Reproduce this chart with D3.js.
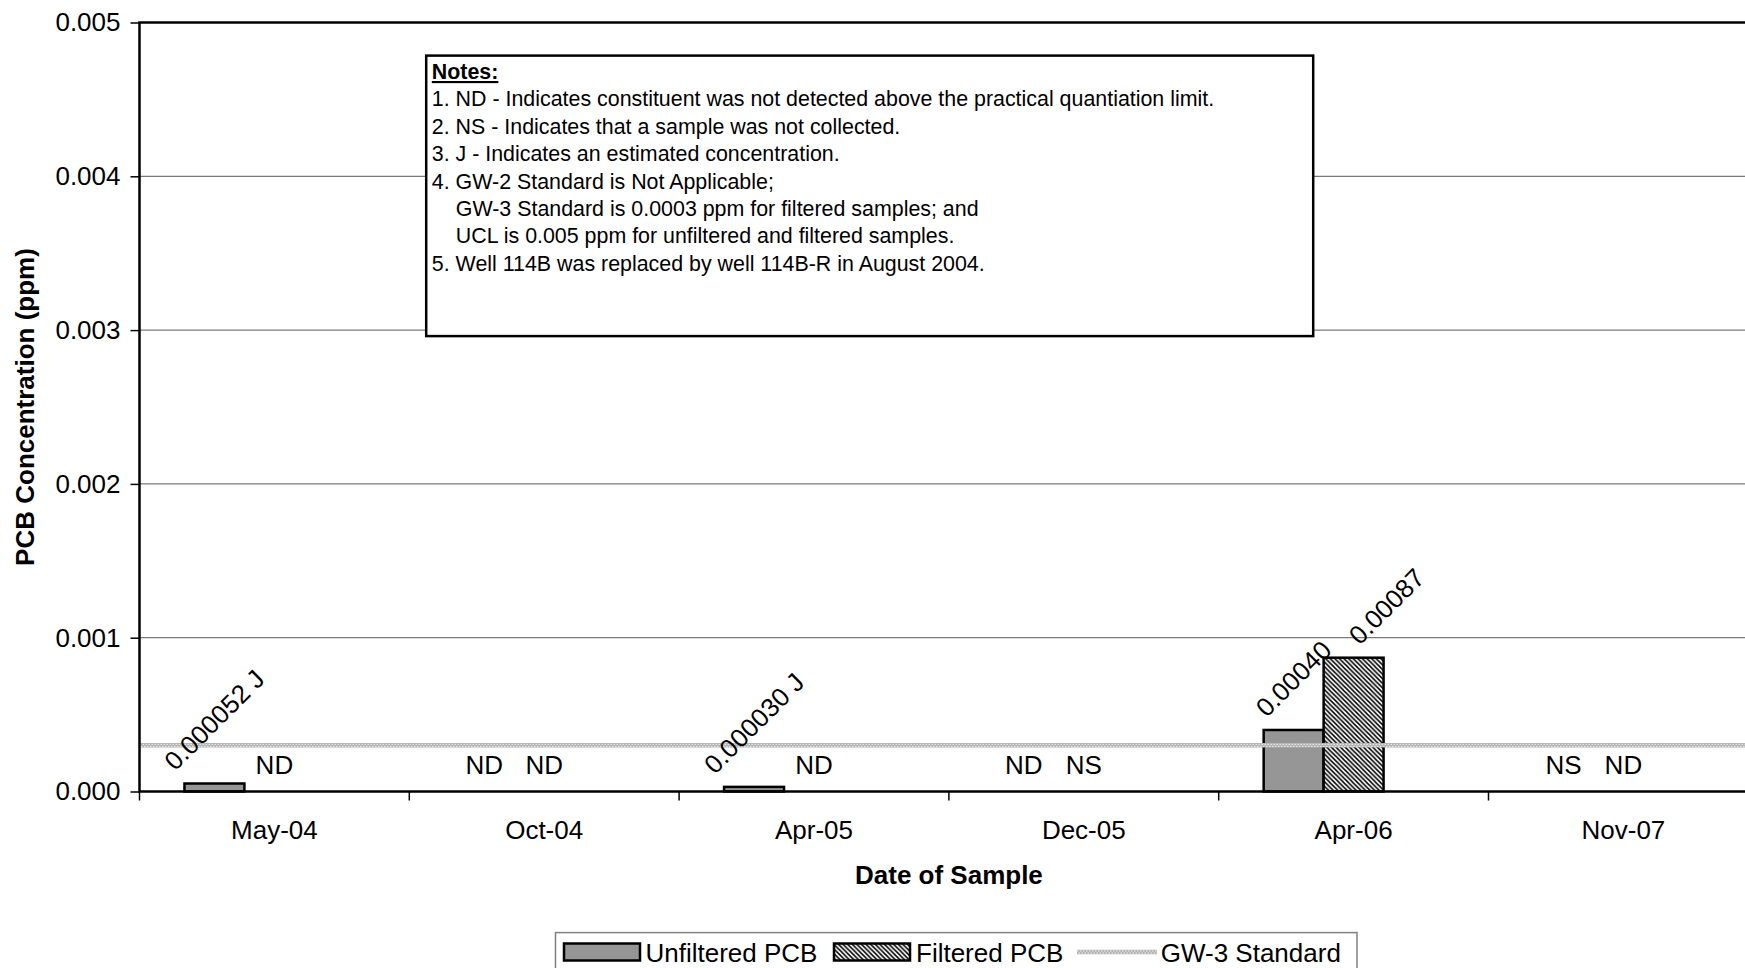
<!DOCTYPE html>
<html>
<head>
<meta charset="utf-8">
<script src="https://cdn.jsdelivr.net/npm/d3@7"></script>
<style>
  html, body { margin: 0; padding: 0; background: #fff; overflow: hidden; }
  svg { display: block; font-family: "Liberation Sans", Arial, sans-serif; }
</style>
</head>
<body>
<svg id="chart" width="1745" height="968"></svg>
<script>
// ---- data ----
const categories = ["May-04", "Oct-04", "Apr-05", "Dec-05", "Apr-06", "Nov-07"];
const unfilteredValues = [0.000052, null, 0.000030, null, 0.00040, null];
const unfilteredLabels = ["0.000052 J", "ND", "0.000030 J", "ND", "0.00040", "NS"];
const filteredValues = [null, null, null, null, 0.00087, null];
const filteredLabels = ["ND", "ND", "ND", "NS", "0.00087", "ND"];
const gw3Standard = 0.0003;
const yTickValues = [0, 0.001, 0.002, 0.003, 0.004, 0.005];
const seriesNames = ["Unfiltered PCB", "Filtered PCB", "GW-3 Standard"];
const notesLines = [
  "1. ND - Indicates constituent was not detected above the practical quantiation limit.",
  "2. NS - Indicates that a sample was not collected.",
  "3. J - Indicates an estimated concentration.",
  "4. GW-2 Standard is Not Applicable;",
  "GW-3 Standard is 0.0003 ppm for filtered samples; and",
  "UCL is 0.005 ppm for unfiltered and filtered samples.",
  "5. Well 114B was replaced by well 114B-R in August 2004."
];
const notesIndented = [false, false, false, false, true, true, false];

// ---- layout ----
const plotLeft = 139.5, plotTop = 22.5, plotBottom = 791.5;
const catW = 269.8;
const plotRight = plotLeft + catW * categories.length;
const FONT = 26;

const svg = d3.select("#chart");
const defs = svg.append("defs");

// hatch pattern (\\\ diagonal)
const hatch = defs.append("pattern")
  .attr("id", "hatch").attr("patternUnits", "userSpaceOnUse")
  .attr("width", 4.6).attr("height", 4.6);
hatch.append("rect").attr("width", 4.6).attr("height", 4.6).attr("fill", "#fff");
hatch.append("path")
  .attr("d", "M-1,-1 L5.6,5.6 M-1,3.6 L1,5.6 M3.6,-1 L5.6,1")
  .attr("stroke", "#000").attr("stroke-width", 1.5);

const x = d3.scaleBand().domain(categories).range([plotLeft, plotRight]).paddingInner(0).paddingOuter(0);
const bw = x.bandwidth();
const xSub = d3.scaleBand().domain(["u", "f", "blank"]).range([bw / 6, bw * 5 / 6]);
const y = d3.scaleLinear().domain([0, 0.005]).range([plotBottom, plotTop]);

// gridlines
svg.append("g").selectAll("line")
  .data(yTickValues.filter(d => d > 0 && d < 0.005))
  .join("line")
  .attr("x1", plotLeft).attr("x2", plotRight)
  .attr("y1", d => y(d)).attr("y2", d => y(d))
  .attr("stroke", "#7a7a7a").attr("stroke-width", 1.3);

// notes box
const nb = { x: 426.2, y: 55.6, w: 887, h: 280.5 };
svg.append("rect").attr("x", nb.x).attr("y", nb.y).attr("width", nb.w).attr("height", nb.h)
  .attr("fill", "#fff").attr("stroke", "#000").attr("stroke-width", 2.5);
const notesFont = 21.4, lineH = 27.4, firstBase = 79;
svg.append("text").attr("x", 431.8).attr("y", firstBase)
  .attr("font-size", notesFont).attr("font-weight", "bold")
  .attr("text-decoration", "underline").text("Notes:");
notesLines.forEach((t, i) => {
  svg.append("text")
    .attr("x", notesIndented[i] ? 455.8 : 431.8)
    .attr("y", firstBase + lineH * (i + 1))
    .attr("font-size", notesFont).attr("fill", "#000").text(t);
});

// bars
const barG = svg.append("g");
categories.forEach((c, i) => {
  const u = unfilteredValues[i], f = filteredValues[i];
  if (u != null) {
    barG.append("rect")
      .attr("x", x(c) + xSub("u")).attr("y", y(u))
      .attr("width", xSub.bandwidth()).attr("height", y(0) - y(u))
      .attr("fill", "#969696").attr("stroke", "#000").attr("stroke-width", 2.5);
  }
  if (f != null) {
    barG.append("rect")
      .attr("x", x(c) + xSub("f")).attr("y", y(f))
      .attr("width", xSub.bandwidth()).attr("height", y(0) - y(f))
      .attr("fill", "url(#hatch)").attr("stroke", "#000").attr("stroke-width", 2.5);
  }
});

// GW-3 standard line (dotted grey band)
function gwBand(g, x1, x2, yy) {
  g.append("line").attr("x1", x1).attr("x2", x2).attr("y1", yy).attr("y2", yy)
    .attr("stroke", "#b2b2b2").attr("stroke-width", 4.5);
  g.append("line").attr("x1", x1).attr("x2", x2).attr("y1", yy - 1).attr("y2", yy - 1)
    .attr("stroke", "#f0f0f0").attr("stroke-width", 1).attr("stroke-dasharray", "1.5 1.5");
  g.append("line").attr("x1", x1).attr("x2", x2).attr("y1", yy + 1).attr("y2", yy + 1)
    .attr("stroke", "#f0f0f0").attr("stroke-width", 1).attr("stroke-dasharray", "1.5 1.5")
    .attr("stroke-dashoffset", 1.5);
}
gwBand(svg.append("g"), plotLeft, plotRight, y(gw3Standard));

// data labels
const labelNudge = { "0.00087": 33 };
function addLabel(cat, key, value, label) {
  const cx = x(cat) + xSub(key) + xSub.bandwidth() / 2;
  if (value == null) {
    svg.append("text").attr("x", cx).attr("y", y(0) - 17.5)
      .attr("text-anchor", "middle").attr("font-size", FONT).text(label);
  } else {
    const t = svg.append("text").attr("font-size", FONT)
      .attr("text-anchor", "middle").attr("dominant-baseline", "central").text(label);
    const L = t.node().getComputedTextLength();
    const boxH = (L + 30) / Math.SQRT2;
    const lx = cx + (labelNudge[label] || 0);
    const ly = y(value) - 7.5 - boxH / 2;
    t.attr("transform", `translate(${lx},${ly}) rotate(-45)`);
  }
}
categories.forEach((c, i) => {
  addLabel(c, "u", unfilteredValues[i], unfilteredLabels[i]);
  addLabel(c, "f", filteredValues[i], filteredLabels[i]);
});

// plot border
svg.append("rect").attr("x", plotLeft).attr("y", plotTop)
  .attr("width", plotRight - plotLeft).attr("height", plotBottom - plotTop)
  .attr("fill", "none").attr("stroke", "#000").attr("stroke-width", 2.5);

// y axis
const yAxis = d3.axisLeft(y).tickValues(yTickValues).tickFormat(d3.format(".3f"))
  .tickSize(9).tickPadding(10);
const yg = svg.append("g").attr("transform", `translate(${plotLeft},0)`).call(yAxis);
yg.select(".domain").remove();
yg.selectAll(".tick line").attr("stroke", "#000").attr("stroke-width", 1.5);
yg.selectAll(".tick text").attr("font-size", FONT).attr("font-family", "Liberation Sans, Arial, sans-serif").attr("fill", "#000");

// x axis ticks (at category boundaries) and labels
const xg = svg.append("g");
xg.selectAll("line").data(categories.concat(["__end"])).join("line")
  .attr("x1", d => d === "__end" ? plotRight : x(d))
  .attr("x2", d => d === "__end" ? plotRight : x(d))
  .attr("y1", plotBottom).attr("y2", plotBottom + 9)
  .attr("stroke", "#000").attr("stroke-width", 1.5);
xg.selectAll("text").data(categories).join("text")
  .attr("x", d => x(d) + bw / 2).attr("y", 838.5)
  .attr("text-anchor", "middle").attr("font-size", FONT).text(d => d);

// axis titles
svg.append("text").attr("x", (plotLeft + plotRight) / 2).attr("y", 884)
  .attr("text-anchor", "middle").attr("font-size", FONT).attr("font-weight", "bold")
  .text("Date of Sample");
svg.append("text").attr("transform", `translate(33.8,${(plotTop + plotBottom) / 2}) rotate(-90)`)
  .attr("text-anchor", "middle").attr("font-size", FONT).attr("font-weight", "bold")
  .text("PCB Concentration (ppm)");

// legend
const lg = svg.append("g");
lg.append("rect").attr("x", 555.5).attr("y", 932.6).attr("width", 801.5).attr("height", 60)
  .attr("fill", "#fff").attr("stroke", "#808080").attr("stroke-width", 1.5);
lg.append("rect").attr("x", 564).attr("y", 943.5).attr("width", 76).attr("height", 17)
  .attr("fill", "#969696").attr("stroke", "#000").attr("stroke-width", 2.5);
lg.append("text").attr("x", 645.5).attr("y", 961.8).attr("font-size", FONT).text(seriesNames[0]);
lg.append("rect").attr("x", 834).attr("y", 943.5).attr("width", 76).attr("height", 17)
  .attr("fill", "url(#hatch)").attr("stroke", "#000").attr("stroke-width", 2.5);
lg.append("text").attr("x", 916).attr("y", 961.8).attr("font-size", FONT).text(seriesNames[1]);
gwBand(lg, 1077, 1157, 952);
lg.append("text").attr("x", 1160.7).attr("y", 961.8).attr("font-size", FONT).text(seriesNames[2]);
</script>
</body>
</html>
